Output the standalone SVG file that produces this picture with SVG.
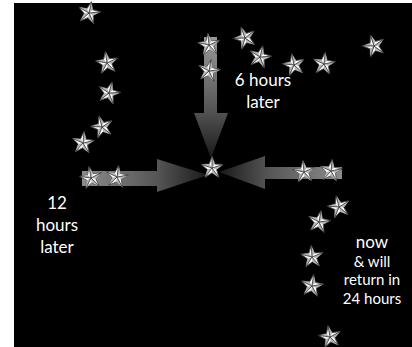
<svg xmlns="http://www.w3.org/2000/svg" xmlns:xlink="http://www.w3.org/1999/xlink" width="412" height="347" viewBox="0 0 412 347">
<style>
.lbl{font-family:Lato,"Open Sans","Liberation Sans",sans-serif;fill:#fff;text-anchor:middle}
.big{font-size:17px}
.sm{font-size:15px}
</style>
<defs>
<linearGradient id="gR" x1="0" y1="0" x2="1" y2="0">
<stop offset="0" stop-color="#8c8c8c"/><stop offset="0.6" stop-color="#555"/><stop offset="1" stop-color="#1a1a1a"/>
</linearGradient>
<linearGradient id="gL" x1="1" y1="0" x2="0" y2="0">
<stop offset="0" stop-color="#8c8c8c"/><stop offset="0.6" stop-color="#555"/><stop offset="1" stop-color="#1a1a1a"/>
</linearGradient>
<linearGradient id="gD" x1="0" y1="0" x2="0" y2="1">
<stop offset="0" stop-color="#9a9a9a"/><stop offset="0.6" stop-color="#555"/><stop offset="1" stop-color="#1a1a1a"/>
</linearGradient>
<g id="star">
<polygon points="0,-11.5 2.82,-3.89 10.94,-3.55 4.57,1.48 6.76,9.30 0,4.8 -6.76,9.30 -4.57,1.48 -10.94,-3.55 -2.82,-3.89" fill="#fff" stroke="#555" stroke-width="0.9" stroke-linejoin="round"/>
<path d="M0,0L0,-11.5L2.82,-3.89ZM0,0L10.94,-3.55L4.57,1.48ZM0,0L6.76,9.30L0,4.8ZM0,0L-6.76,9.30L-4.57,1.48ZM0,0L-10.94,-3.55L-2.82,-3.89Z" fill="#b5b5b5"/>
<path d="M0,0L0,-11.5M0,0L10.94,-3.55M0,0L6.76,9.30M0,0L-6.76,9.30M0,0L-10.94,-3.55" stroke="#222" stroke-width="0.7"/>
</g>
</defs>
<rect x="14" y="3" width="398" height="344" fill="#000"/>
<g id="connectors">
<polygon points="82,171 157,171 157,159 208,175 157,192 157,186 82,186" fill="url(#gR)"/>
<polygon points="204,37 217,37 217,113 228,113 211,158 194,113 204,113" fill="url(#gD)"/>
<polygon points="342,167 265,167 265,156 219,172 265,189 265,179 342,179" fill="url(#gL)"/>
</g>
<g id="stars">
<g id="s1"><use xlink:href="#star" transform="translate(89,13) rotate(12)"/></g>
<g id="s2"><use xlink:href="#star" transform="translate(107,63) rotate(-8)"/></g>
<g id="s3"><use xlink:href="#star" transform="translate(109,93) rotate(15)"/></g>
<g id="s4"><use xlink:href="#star" transform="translate(102,127) rotate(-15)"/></g>
<g id="s5"><use xlink:href="#star" transform="translate(83,143) rotate(5)"/></g>
<g id="s6"><use xlink:href="#star" transform="translate(91,178) rotate(-10)"/></g>
<g id="s7"><use xlink:href="#star" transform="translate(117,177) rotate(8)"/></g>
<g id="s8"><use xlink:href="#star" transform="translate(209,45) rotate(-6)"/></g>
<g id="s9"><use xlink:href="#star" transform="translate(209,71) rotate(10)"/></g>
<g id="s10"><use xlink:href="#star" transform="translate(245,38) rotate(-20)"/></g>
<g id="s11"><use xlink:href="#star" transform="translate(260,57) rotate(14)"/></g>
<g id="s12"><use xlink:href="#star" transform="translate(294,65) rotate(-12)"/></g>
<g id="s13"><use xlink:href="#star" transform="translate(324,64) rotate(6)"/></g>
<g id="s14"><use xlink:href="#star" transform="translate(374,46) rotate(-18)"/></g>
<g id="s15"><use xlink:href="#star" transform="translate(212,168) rotate(0)"/></g>
<g id="s16"><use xlink:href="#star" transform="translate(304,172) rotate(-6)"/></g>
<g id="s17"><use xlink:href="#star" transform="translate(331,171) rotate(6)"/></g>
<g id="s18"><use xlink:href="#star" transform="translate(339,207) rotate(-14)"/></g>
<g id="s19"><use xlink:href="#star" transform="translate(319,222) rotate(10)"/></g>
<g id="s20"><use xlink:href="#star" transform="translate(312,257) rotate(-4)"/></g>
<g id="s21"><use xlink:href="#star" transform="translate(312,286) rotate(8)"/></g>
<g id="s22"><use xlink:href="#star" transform="translate(330,337) rotate(-10)"/></g>
</g>
<g id="label-6h"><text class="lbl big" x="263" y="86">6 hours</text><text class="lbl big" x="263" y="108">later</text></g>
<g id="label-12h"><text class="lbl big" x="57" y="209">12</text><text class="lbl big" x="57" y="231">hours</text><text class="lbl big" x="57" y="253">later</text></g>
<g id="label-now"><text class="lbl big" x="372" y="248">now</text><text class="lbl sm" x="372" y="267">&amp; will</text><text class="lbl sm" x="372" y="285">return in</text><text class="lbl sm" x="372" y="304">24 hours</text></g>
</svg>
